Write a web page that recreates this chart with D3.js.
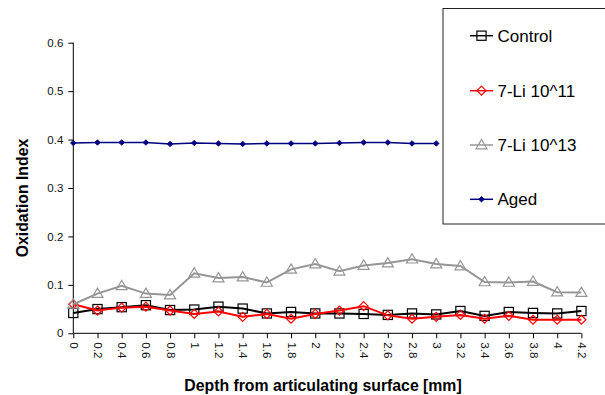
<!DOCTYPE html>
<html><head><meta charset="utf-8">
<script src="https://cdn.jsdelivr.net/npm/d3@7"></script>
<style>body{margin:0;background:#fff;}svg{display:block;}text{font-family:"Liberation Sans",Arial,sans-serif;}</style>
</head><body>
<svg id="chart" width="605" height="395"></svg>
<script>
const categories = ["0","0.2","0.4","0.6","0.8","1","1.2","1.4","1.6","1.8","2","2.2","2.4","2.6","2.8","3","3.2","3.4","3.6","3.8","4","4.2"];
const control = [0.042,0.050,0.054,0.058,0.048,0.049,0.055,0.051,0.041,0.044,0.041,0.041,0.040,0.038,0.041,0.039,0.046,0.036,0.044,0.042,0.041,0.046];
const li11 = [0.060,0.047,0.053,0.055,0.047,0.040,0.045,0.034,0.040,0.030,0.040,0.047,0.056,0.037,0.030,0.034,0.038,0.030,0.036,0.028,0.028,0.028];
const li13 = [0.060,0.082,0.098,0.082,0.079,0.124,0.114,0.116,0.105,0.132,0.143,0.128,0.140,0.145,0.153,0.143,0.139,0.106,0.105,0.107,0.085,0.084];
const aged = [0.393,0.394,0.394,0.394,0.391,0.393,0.392,0.391,0.392,0.392,0.392,0.393,0.394,0.394,0.392,0.392];
const yTicks = [0,0.1,0.2,0.3,0.4,0.5,0.6];
const yTickLabels = ["0","0.1","0.2","0.3","0.4","0.5","0.6"];
const seriesNames = ["Control","7-Li 10^11","7-Li 10^13","Aged"];
const xTitle = "Depth from articulating surface [mm]";
const yTitle = "Oxidation Index";

const svg = d3.select("#chart");
const x = d3.scalePoint().domain(categories).range([73.3, 581.4]);
const y = d3.scaleLinear().domain([0, 0.6]).range([333.3, 42.7]);

// axes
const yAxis = d3.axisLeft(y).tickValues(yTicks).tickFormat((d,i)=>yTickLabels[i]).tickSize(5).tickPadding(5);
const gy = svg.append("g").attr("transform","translate(73.3,0)").call(yAxis);
gy.select(".domain").attr("stroke","#000").attr("d","M0,42.7V333.3");
gy.selectAll("text").attr("font-size","11.5px").attr("fill","#111").style("font-family","'Liberation Sans',Arial,sans-serif");

const xAxis = d3.axisBottom(x).tickSize(5).tickPadding(0);
const gx = svg.append("g").attr("transform","translate(0,333.3)").call(xAxis);
gx.select(".domain").attr("stroke","#000").attr("d","M73.3,0H581.4");
gx.selectAll("text")
  .attr("font-size","11.5px").attr("fill","#111").style("font-family","'Liberation Sans',Arial,sans-serif")
  .attr("text-anchor","start").attr("dy",null).attr("y",null)
  .attr("dominant-baseline","central")
  .attr("transform","translate(0,9) rotate(90)");

// titles
svg.append("text").attr("x",323).attr("y",391).attr("text-anchor","middle")
  .attr("font-size","15.8px").attr("font-weight","bold").attr("fill","#000").text(xTitle);
svg.append("text").attr("transform","translate(28,198) rotate(-90)").attr("text-anchor","middle")
  .attr("font-size","15.8px").attr("font-weight","bold").attr("fill","#000").text(yTitle);

const line = d3.line().x((d,i)=>x(categories[i])).y(d=>y(d));

function drawMarker(g, type, cx, cy, color) {
  if (type === "square") {
    g.append("rect").attr("x",cx-4.6).attr("y",cy-4.6).attr("width",9.2).attr("height",9.2)
      .attr("fill","none").attr("stroke",color).attr("stroke-width",1.2);
  } else if (type === "diamond") {
    g.append("path").attr("d",`M${cx},${cy-4.5}L${cx+4.5},${cy}L${cx},${cy+4.5}L${cx-4.5},${cy}Z`)
      .attr("fill","none").attr("stroke",color).attr("stroke-width",1.2);
  } else if (type === "triangle") {
    g.append("path").attr("d",`M${cx},${cy-5.5}L${cx+5.5},${cy+3.8}L${cx-5.5},${cy+3.8}Z`)
      .attr("fill","none").attr("stroke",color).attr("stroke-width",1.2);
  } else if (type === "dot") {
    g.append("path").attr("d",`M${cx},${cy-2.8}L${cx+2.8},${cy}L${cx},${cy+2.8}L${cx-2.8},${cy}Z`)
      .attr("fill",color).attr("stroke",color).attr("stroke-width",0.8);
  }
}

const series = [
  {name: seriesNames[0], data: control, color: "#000000", marker: "square", width: 2},
  {name: seriesNames[1], data: li11, color: "#ff0000", marker: "diamond", width: 2},
  {name: seriesNames[2], data: li13, color: "#969696", marker: "triangle", width: 2},
  {name: seriesNames[3], data: aged, color: "#000080", marker: "dot", width: 1.5}
];

series.forEach(s => {
  const g = svg.append("g");
  g.append("path").datum(s.data).attr("d", line).attr("fill","none")
    .attr("stroke", s.color).attr("stroke-width", s.width);
  s.data.forEach((d,i) => drawMarker(g, s.marker, x(categories[i]), y(d), s.color));
});

// legend
const lg = svg.append("g");
lg.append("rect").attr("x",443).attr("y",8.5).attr("width",170).attr("height",215.5)
  .attr("fill","#fff").attr("stroke","#222").attr("stroke-width",1);
const legendY = [35.7, 90.7, 145, 199.3];
series.forEach((s,i) => {
  const ly = legendY[i];
  lg.append("line").attr("x1",470).attr("x2",493).attr("y1",ly).attr("y2",ly)
    .attr("stroke",s.color).attr("stroke-width", i===3?1.5:1.5);
  drawMarker(lg, s.marker, 481.5, ly, s.color);
  lg.append("text").attr("x",497.5).attr("y",ly).attr("dy","0.36em")
    .attr("font-size","17px").attr("fill","#000").text(s.name);
});
</script>
</body></html>
